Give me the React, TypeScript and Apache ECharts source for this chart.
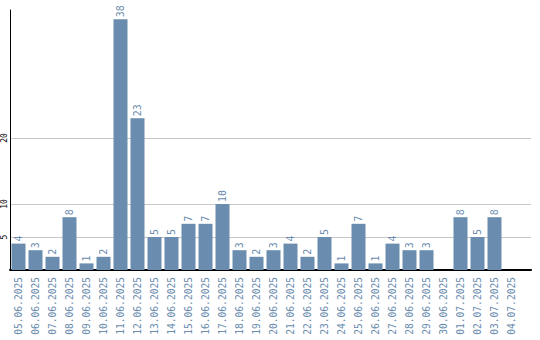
import React, { useEffect, useRef } from "react";
import * as echarts from "echarts";

const categories = [
  "05.06.2025", "06.06.2025", "07.06.2025", "08.06.2025", "09.06.2025",
  "10.06.2025", "11.06.2025", "12.06.2025", "13.06.2025", "14.06.2025",
  "15.06.2025", "16.06.2025", "17.06.2025", "18.06.2025", "19.06.2025",
  "20.06.2025", "21.06.2025", "22.06.2025", "23.06.2025", "24.06.2025",
  "25.06.2025", "26.06.2025", "27.06.2025", "28.06.2025", "29.06.2025",
  "30.06.2025", "01.07.2025", "02.07.2025", "03.07.2025", "04.07.2025",
];
const values = [4, 3, 2, 8, 1, 2, 38, 23, 5, 5, 7, 7, 10, 3, 2, 3, 4, 2, 5, 1, 7, 1, 4, 3, 3, 0, 8, 5, 8, 0];
const yTickLabels = [5, 10, 20];
const yMax = 39.4;

const BLUE = "#6a8cae";
const MONO = "'DejaVu Sans Mono', monospace";

export default function App() {
  const ref = useRef<HTMLDivElement>(null);
  useEffect(() => {
    if (!ref.current) return;
    const chart = echarts.init(ref.current, undefined, { renderer: "svg" });
    chart.setOption({
      animation: false,
      grid: [
        { left: 10, right: 20, top: 10, bottom: 70, containLabel: false },
        { left: 10, right: 9, top: 10, bottom: 70, containLabel: false },
      ],
      xAxis: [
        {
          type: "category",
          gridIndex: 0,
          data: categories,
          axisLine: { show: false },
          axisTick: { show: false },
          axisLabel: {
            interval: 0,
            rotate: 90,
            margin: 7,
            color: BLUE,
            fontSize: 9.6,
            fontFamily: MONO,
          },
          splitLine: { show: false },
        },
        {
          type: "value",
          gridIndex: 1,
          min: 0,
          max: 1,
          axisLine: { show: true, onZero: false, lineStyle: { color: "#000", width: 2 } },
          axisTick: { show: false },
          axisLabel: { show: false },
          splitLine: { show: false },
        },
      ],
      yAxis: [
        {
          type: "value",
          gridIndex: 0,
          min: 0,
          max: yMax,
          interval: 5,
          axisLine: { show: true, lineStyle: { color: "#000", width: 1 } },
          axisTick: { show: false },
          splitLine: { show: false },
          axisLabel: {
            rotate: 90,
            margin: 2,
            color: "#000",
            fontSize: 8,
            fontFamily: MONO,
            formatter: (v: number) => (yTickLabels.includes(v) ? String(v) : ""),
          },
        },
        {
          type: "value",
          gridIndex: 1,
          min: 0,
          max: yMax,
          show: false,
          splitLine: { show: false },
        },
      ],
      series: [
        {
          type: "line",
          xAxisIndex: 1,
          yAxisIndex: 1,
          data: [],
          silent: true,
          z: 0,
          markLine: {
            silent: true,
            symbol: "none",
            label: { show: false },
            lineStyle: { color: "#c8c8c8", type: "solid", width: 1 },
            data: yTickLabels.map((v) => ({ yAxis: v })),
            z: 0,
          },
        },
        {
          type: "bar",
          xAxisIndex: 0,
          yAxisIndex: 0,
          data: values,
          barWidth: 14,
          itemStyle: { color: BLUE },
          z: 3,
          label: {
            show: true,
            position: "top",
            rotate: 90,
            align: "left",
            verticalAlign: "middle",
            distance: 2,
            color: BLUE,
            fontSize: 10,
            fontFamily: MONO,
            formatter: (p: any) => (p.value ? String(p.value) : ""),
          },
        },
      ],
    });
    return () => chart.dispose();
  }, []);
  return (
    <div
      ref={ref}
      style={{ position: "fixed", left: 0, top: 0, width: 540, height: 340, background: "#fff" }}
    />
  );
}
